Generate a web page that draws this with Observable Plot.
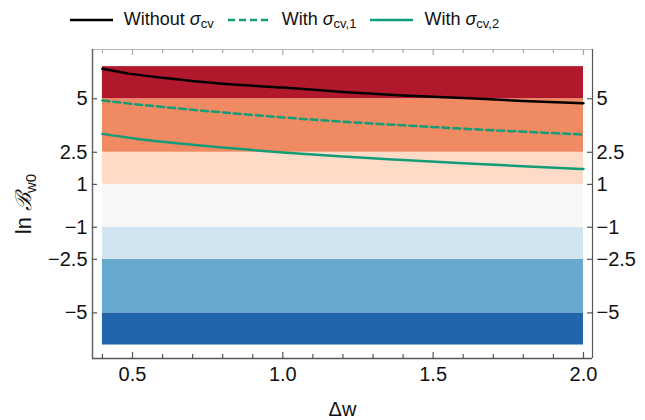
<!DOCTYPE html>
<html>
<head>
<meta charset="utf-8">
<script src="https://cdn.jsdelivr.net/npm/d3@7"></script>
<script src="https://cdn.jsdelivr.net/npm/@observablehq/plot@0.6"></script>
<style>
  html, body { margin: 0; padding: 0; background: white; }
  body { width: 645px; height: 420px; overflow: hidden; font-family: "Liberation Sans", Arial, sans-serif; }
  #legend { height: 38px; display: flex; align-items: center; justify-content: center; font-size: 18px; color: #111; padding-right: 76px; padding-top: 2px; box-sizing: border-box; width: 645px; }
  .item { display: flex; align-items: center; margin: 0 7px; }
  .item svg { margin-right: 11px; }
  sub { font-size: 13px; vertical-align: -3px; }
</style>
</head>
<body>
<div id="legend"></div>
<div id="chart"></div>
<script>
// Data
const dw = [0.4, 0.5, 0.6, 0.8, 1.0, 1.2, 1.4, 1.6, 1.8, 2.0];
const withoutCv = [6.40, 6.15, 5.98, 5.70, 5.52, 5.32, 5.15, 5.03, 4.90, 4.79];
const withCv1 = [4.92, 4.76, 4.62, 4.36, 4.13, 3.93, 3.76, 3.60, 3.46, 3.33];
const withCv2 = [3.36, 3.16, 2.99, 2.72, 2.49, 2.30, 2.14, 1.99, 1.85, 1.72];

const bandLo = [-6.5, -5, -2.5, -1, 1, 2.5, 5];
const bandHi = [-5, -2.5, -1, 1, 2.5, 5, 6.5];
const bandColors = ["#2166ac", "#67a9cf", "#d1e5f0", "#f7f7f7", "#fddbc7", "#ef8a62", "#b2182b"];
const bandX = [0.4, 2.0];

const xMajor = [0.5, 1.0, 1.5, 2.0];
const xMinor = [0.4, 0.6, 0.7, 0.8, 0.9, 1.1, 1.2, 1.3, 1.4, 1.6, 1.7, 1.8, 1.9];
const yTicks = [-5, -2.5, -1, 1, 2.5, 5];
const xDomain = [0.367, 2.03];
const yDomain = [-7.13, 7.30];

const seriesNames = ["Without", "With", "With"];
const seriesSubs = ["cv", "cv,1", "cv,2"];
const green = "#129c78";

const bands = bandLo.map((lo, i) => ({lo, hi: bandHi[i], color: bandColors[i], x1: bandX[0], x2: bandX[1]}));
const mk = arr => dw.map((x, i) => ({x, y: arr[i]}));

// tick lengths in data units (pixels / scale factor)
const W = 645, H = 382, mT = 11, mB = 62, mL = 92, mR = 53;
const xpu = (W - mL - mR) / (xDomain[1] - xDomain[0]);
const ypu = (H - mT - mB) / (yDomain[1] - yDomain[0]);
const ty = px => px / ypu;
const tx = px => px / xpu;

// Legend
const legendStyles = [
  {stroke: "#000", dash: null},
  {stroke: green, dash: "7,4"},
  {stroke: green, dash: null}
];
const legend = document.getElementById("legend");
legendStyles.forEach((s, i) => {
  const item = document.createElement("div");
  item.className = "item";
  item.innerHTML = `<svg width="43" height="10"><line x1="0" x2="43" y1="5" y2="5" stroke="${s.stroke}" stroke-width="2.5" ${s.dash ? `stroke-dasharray="${s.dash}"` : ""}/></svg>` +
    `<span>${seriesNames[i]} <i>σ</i><sub>${seriesSubs[i]}</sub></span>`;
  legend.appendChild(item);
});

const fmtY = d => d < 0 ? "\u2212" + Math.abs(d) : String(d);

const chart = Plot.plot({
  width: W,
  height: H,
  marginTop: mT,
  marginBottom: mB,
  marginLeft: mL,
  marginRight: mR,
  x: {domain: xDomain},
  y: {domain: yDomain},
  style: {fontFamily: "Liberation Sans, Arial, sans-serif", fontSize: "20px", background: "white", color: "#111"},
  marks: [
    Plot.rect(bands, {x1: "x1", x2: "x2", y1: "lo", y2: "hi", fill: d => d.color}),
    Plot.line(mk(withoutCv), {x: "x", y: "y", stroke: "#000", strokeWidth: 2.5, curve: "monotone-x"}),
    Plot.line(mk(withCv1), {x: "x", y: "y", stroke: green, strokeWidth: 2.5, strokeDasharray: "7,4", curve: "monotone-x"}),
    Plot.line(mk(withCv2), {x: "x", y: "y", stroke: green, strokeWidth: 2.5, curve: "monotone-x"}),
    // frame
    Plot.ruleY([yDomain[1]], {stroke: "#bbb", strokeWidth: 1}),
    Plot.ruleX([xDomain[0]], {stroke: "#666", strokeWidth: 1.5}),
    Plot.ruleX([xDomain[1]], {stroke: "#555", strokeWidth: 1.2}),
    Plot.ruleY([yDomain[0]], {stroke: "#555", strokeWidth: 1.5}),
    // inward ticks: bottom and top
    Plot.ruleX(xMajor, {y1: yDomain[0], y2: yDomain[0] + ty(6), stroke: "#555", strokeWidth: 1.2}),
    Plot.ruleX(xMinor, {y1: yDomain[0], y2: yDomain[0] + ty(4), stroke: "#555", strokeWidth: 1.2}),
    Plot.ruleX(xMajor, {y1: yDomain[1], y2: yDomain[1] - ty(6), stroke: "#aaa", strokeWidth: 1.2}),
    Plot.ruleX(xMinor, {y1: yDomain[1], y2: yDomain[1] - ty(4), stroke: "#aaa", strokeWidth: 1.2}),
    // inward ticks: left and right
    Plot.ruleY(yTicks, {x1: xDomain[0], x2: xDomain[0] + tx(5), stroke: "#555", strokeWidth: 1.2}),
    Plot.ruleY(yTicks, {x1: xDomain[1], x2: xDomain[1] - tx(5), stroke: "#555", strokeWidth: 1.2}),
    // tick labels
    Plot.axisX({anchor: "bottom", ticks: xMajor, tickSize: 0, tickPadding: 8, tickFormat: d => d.toFixed(1), fontSize: 20, label: null}),
    Plot.axisY({anchor: "left", ticks: yTicks, tickSize: 0, tickPadding: 5, tickFormat: fmtY, fontSize: 20, label: null}),
    Plot.axisY({anchor: "right", ticks: yTicks, tickSize: 0, tickPadding: 4, tickFormat: fmtY, fontSize: 20, label: null}),
    Plot.text(["Δw"], {frameAnchor: "bottom", dy: 57, text: d => d, fontSize: 20})
  ]
});
document.getElementById("chart").appendChild(chart);

// y-axis label with subscript
const svg = d3.select(chart);
const yl = svg.append("text")
  .attr("transform", "translate(31,166) rotate(-90)")
  .attr("text-anchor", "middle")
  .attr("font-size", 22)
  .attr("fill", "#111")
  .attr("font-family", "Liberation Sans, Arial, sans-serif");
yl.append("tspan").text("ln ");
yl.append("tspan").text("\u212C").attr("font-style", "italic");
yl.append("tspan").text("w0").attr("font-size", 15).attr("dy", 5);
</script>
</body>
</html>
